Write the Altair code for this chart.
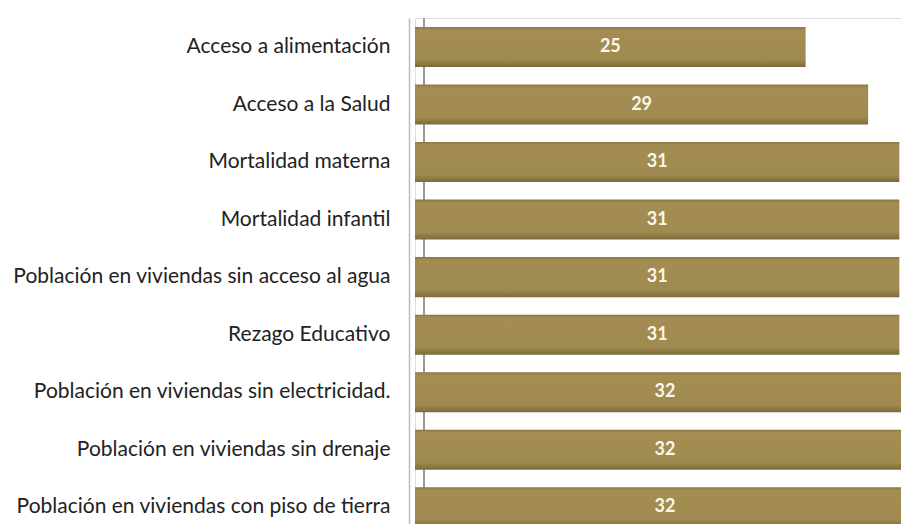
import altair as alt
import pandas as pd

categories = [
    "Acceso a alimentación",
    "Acceso a la Salud",
    "Mortalidad materna",
    "Mortalidad infantil",
    "Población en viviendas sin acceso al agua",
    "Rezago Educativo",
    "Población en viviendas sin electricidad.",
    "Población en viviendas sin drenaje",
    "Población en viviendas con piso de tierra",
]
values = [25, 29, 31, 31, 31, 31, 32, 32, 32]

df = pd.DataFrame({"cat": categories, "value": values})

bar_fill = alt.Gradient(
    gradient="linear",
    x1=0, x2=0, y1=0, y2=1,
    stops=[
        alt.GradientStop(color="#8a7742", offset=0),
        alt.GradientStop(color="#a38d52", offset=0.08),
        alt.GradientStop(color="#9f8a4f", offset=0.82),
        alt.GradientStop(color="#7b6a39", offset=1),
    ],
)

y_enc = alt.Y(
    "cat:N",
    sort=categories,
    title=None,
    scale=alt.Scale(range=[0, 518], paddingInner=0.3043, paddingOuter=0.1543, align=0.507),
    axis=alt.Axis(
        ticks=False,
        offset=6,
        labelPadding=19,
        labelFont="Lato",
        labelFontSize=21,
        labelColor="#222222",
        labelLimit=420,
        domainColor="#bdbdbd",
        domainWidth=1.5,
        grid=False,
    ),
)

x_scale = alt.Scale(domain=[0, 32], range=[0, 500])

back_wall = alt.Chart(df).mark_rule(color="#9a9a9a", strokeWidth=1.2).encode(
    x=alt.value(9), y=alt.value(0), y2=alt.value(506)
)

bars = alt.Chart(df).mark_bar(color=bar_fill, clip=True).encode(
    y=y_enc,
    x=alt.X("value:Q", scale=x_scale, axis=None, title=None),
)

labels = alt.Chart(df).transform_calculate(
    mid="datum.value / 2"
).mark_text(
    font="Lato", fontSize=18, fontWeight="bold", color="#fbf7ea", baseline="middle"
).encode(
    y=alt.Y("cat:N", sort=categories),
    x=alt.X("mid:Q", scale=x_scale),
    text=alt.Text("value:Q"),
)

chart = alt.layer(back_wall, bars, labels).properties(
    width=486,
    height=506,
    autosize=alt.AutoSizeParams(type="none"),
    padding={"left": 407, "top": 10, "right": 0, "bottom": 0},
).configure_view(stroke=None).configure(background="white")

chart.save("out.html", embed_options={"renderer": "svg", "actions": False})
